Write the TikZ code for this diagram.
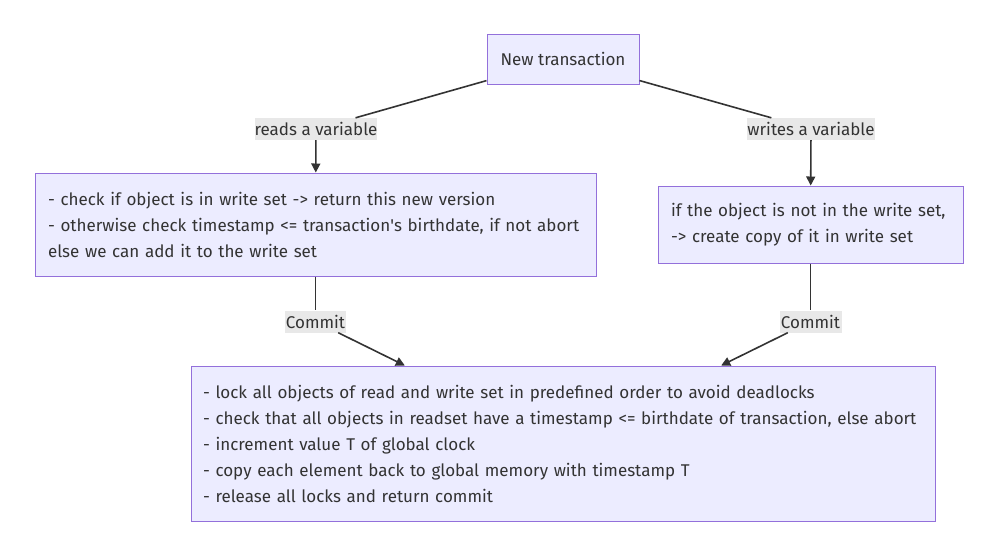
\documentclass[tikz,border=0pt]{standalone}
\usepackage{fontspec}
\setmainfont{Fira Sans}
\usetikzlibrary{arrows.meta}
\definecolor{boxfill}{HTML}{ECECFF}
\definecolor{boxline}{HTML}{9370DB}
\definecolor{ink}{HTML}{333333}
\definecolor{lblfill}{HTML}{E8E8E8}

\begin{document}
\begin{tikzpicture}[x=1pt,y=-1pt,
    every node/.style={text=ink,font=\fontsize{17}{26}\selectfont},
    state/.style={draw=boxline,fill=boxfill,line width=1pt,inner xsep=13pt,inner ysep=0pt,align=left},
    lbl/.style={fill=lblfill,inner sep=0pt,minimum height=22pt},
    edge/.style={draw=ink,line width=1.6pt},
    arr/.style={edge,-{Triangle[length=9pt,width=9pt]}}]
        \fill[white] (0,0) rectangle (1000,550);
        \useasboundingbox (0,0) rectangle (1000,550);
        % boxes
        \node[state,minimum width=152pt,minimum height=50pt,align=center] (tx) at (563,59) {New transaction};
        \node[state,text width=535pt,minimum height=103pt] (rbox) at (315.5,224.5)
          {- check if object is in write set -> return this new version\\
           - otherwise check timestamp <= transaction\textquotesingle s birthdate, if not abort\\
           else we can add it to the write set};
        \node[state,text width=279pt,minimum height=77pt] (wbox) at (810.5,224.5)
          {if the object is not in the write set,\\
           -> create copy of it in write set};
        \node[state,inner xsep=12pt,text width=720pt,minimum height=155pt] (commit) at (563,443.5)
          {- lock all objects of read and write set in predefined order to avoid deadlocks\\
           - check that all objects in readset have a timestamp <= birthdate of transaction, else abort\\
           - increment value T of global clock\\
           - copy each element back to global memory with timestamp T\\
           - release all locks and return commit};
        % edge labels
        \node[lbl,minimum width=120pt] (rd) at (316,129) {reads a variable};
        \node[lbl,minimum width=124pt] (wr) at (811,129) {writes a variable};
        \node[lbl,minimum width=61pt] (ca) at (315.5,321.5) {Commit};
        \node[lbl,minimum width=62pt] (cb) at (810.5,321.5) {Commit};
        % connectors
        \draw[edge] (tx) -- (rd);
        \draw[arr] (rd) -- (rbox);
        \draw[edge] (tx) -- (wr);
        \draw[arr] (wr) -- (wbox);
        \draw[edge] (rbox) -- (ca);
        \draw[arr] (ca) -- (commit);
        \draw[edge] (wbox) -- (cb);
        \draw[arr] (cb) -- (commit);
\end{tikzpicture}
\end{document}
